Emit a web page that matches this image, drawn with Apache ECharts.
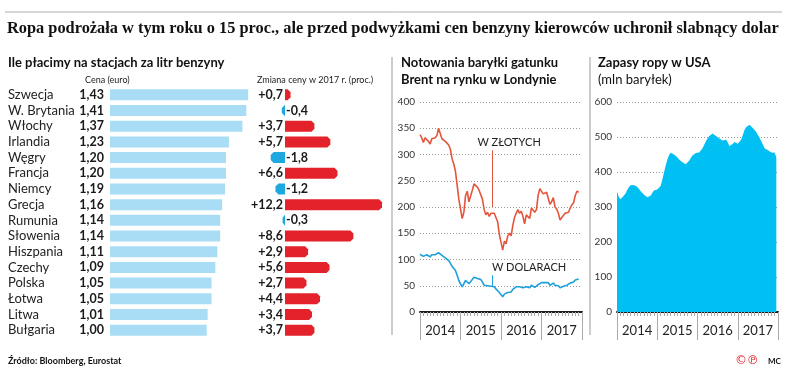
<!DOCTYPE html>
<html><head><meta charset="utf-8">
<script src="https://cdn.jsdelivr.net/npm/echarts@6/dist/echarts.min.js"></script>
<style>html,body{margin:0;padding:0;background:#fff}#c{width:788px;height:375px}</style>
</head><body><div id="c"></div>
<script>
const countries = ['Szwecja','W. Brytania','Włochy','Irlandia','Węgry','Francja','Niemcy','Grecja','Rumunia','Słowenia','Hiszpania','Czechy','Polska','Łotwa','Litwa','Bułgaria'];
const prices = [1.43,1.41,1.37,1.23,1.20,1.20,1.19,1.16,1.14,1.14,1.11,1.09,1.05,1.05,1.01,1.00];
const changes = [0.7,-0.4,3.7,5.7,-1.8,6.6,-1.2,12.2,-0.3,8.6,2.9,5.6,2.7,4.4,3.4,3.7];
const yearLabels = ['2014','2015','2016','2017'];
// semi-monthly readings starting Jan 2014
const brentUsd = [110,107,106,109,109,107,105,109,108,109,110,113,112,108,106,103,102,98,93,87,84,79,70,60,
  57,48,50,60,61,54,56,62,66,66,64,63,62,57,51,49,50,48,49,50,48,44,43,37,
  37,29,34,33,37,39,38,43,46,48,50,48,48,46,43,48,47,46,51,51,47,46,52,55,
  56,55,56,56,56,51,53,55,51,52,50,46,48,49,52,51,53,55,56,57,61,63,63];
const brentPln = [338,332,323,332,330,325,320,330,328,332,336,350,340,330,332,325,328,318,310,292,282,268,242,215,
  215,178,190,222,230,210,212,232,244,242,238,232,232,215,195,185,190,182,188,190,188,180,172,148,
  148,118,135,130,145,150,145,165,180,188,195,188,192,182,168,185,182,178,198,200,190,195,222,235,
  235,225,228,228,225,205,210,218,200,196,188,175,180,180,188,185,190,198,204,208,222,230,228];
const usStocks = [344,330,322,326,332,338,348,356,362,367,363,360,358,352,346,341,336,332,328,326,332,340,347,346,
  350,352,360,378,398,418,435,448,455,457,450,446,442,436,432,428,424,422,424,432,440,447,452,454,
  455,456,460,468,478,488,496,503,508,510,506,503,500,496,492,490,491,492,485,474,470,480,486,483,
  481,484,492,505,520,528,533,535,530,526,522,514,506,498,488,478,468,470,462,458,456,458,455,442];

const SANS = 'Lato, "Noto Sans", sans-serif';
const t = k => 2014 + k / 24;
const fmtPct = v => (v > 0 ? '+' : '') + v.toFixed(1).replace('.', ',');

const chart = echarts.init(document.getElementById('c'), null, {renderer: 'canvas'});

function timeXAxes(gi) {
  return [{
    type: 'value', gridIndex: gi, min: 2014, max: 2018, interval: 1,
    axisLine: {show: true, onZero: false, lineStyle: {color: '#1a1a1a', width: 2}},
    axisTick: {show: true, length: 5, lineStyle: {color: '#999'}},
    minorTick: {show: true, splitNumber: 12, length: 4, lineStyle: {color: '#aaa'}},
    axisLabel: {show: false}, splitLine: {show: false}
  }, {
    type: 'category', gridIndex: gi, data: yearLabels, position: 'bottom', boundaryGap: true,
    axisLine: {show: false},
    axisTick: {show: true, interval: 0, length: 28, lineStyle: {color: '#aaa'}},
    axisLabel: {fontSize: 13, color: '#222', fontFamily: SANS, margin: 12},
    splitLine: {show: false}
  }];
}

const gridLine = {show: true, lineStyle: {color: '#999', type: [1, 2], width: 1}};

const option = {
  animation: false,
  grid: [
    {left: 110, top: 87, width: 145, height: 251},
    {left: 245.25, top: 87, width: 143.1, height: 251},
    {left: 420, top: 102, width: 162, height: 210},
    {left: 617, top: 102, width: 161, height: 210}
  ],
  xAxis: [
    {type: 'value', gridIndex: 0, min: 0, max: 1.5, show: false},
    {type: 'value', gridIndex: 1, min: -5, max: 13, show: false},
    ...timeXAxes(2),
    ...timeXAxes(3)
  ],
  yAxis: [
    {type: 'category', gridIndex: 0, data: countries, inverse: true,
      axisLine: {show: false}, axisTick: {show: false},
      axisLabel: {interval: 0, align: 'left', margin: 102, fontSize: 13, color: '#222', fontFamily: SANS}},
    {type: 'category', gridIndex: 1, data: countries, inverse: true, show: false},
    {type: 'value', gridIndex: 2, min: 0, max: 400, interval: 50,
      axisLine: {show: false}, axisTick: {show: false},
      axisLabel: {fontSize: 10, color: '#333', fontFamily: SANS, margin: 5},
      splitLine: gridLine},
    {type: 'value', gridIndex: 3, min: 0, max: 600, interval: 100,
      axisLine: {show: false}, axisTick: {show: false},
      axisLabel: {fontSize: 10, color: '#333', fontFamily: SANS, margin: 5},
      splitLine: gridLine}
  ],
  series: [
    {type: 'bar', xAxisIndex: 0, yAxisIndex: 0, data: prices, barWidth: 11,
      itemStyle: {color: '#a8ddf5'},
      label: {show: true, position: 'left', distance: 6, fontFamily: SANS, fontWeight: 'bold', fontSize: 12.5, color: '#1a1a1a',
        formatter: p => p.value.toFixed(2).replace('.', ',')}},
    {type: 'custom', xAxisIndex: 1, yAxisIndex: 1,
      data: changes.map((v, i) => [v, i]),
      encode: {x: 0, y: 1},
      renderItem: (params, api) => {
        const v = api.value(0), i = api.value(1);
        const p0 = api.coord([0, i]), p1 = api.coord([v, i]);
        const h = 11, y = p0[1], x0 = p0[0], x1 = p1[0];
        const dir = v >= 0 ? 1 : -1;
        const tip = Math.min(3, Math.abs(x1 - x0));
        const pts = [[x0, y - h / 2], [x1 - dir * tip, y - h / 2], [x1, y - 2.5], [x1, y + 2.5], [x1 - dir * tip, y + h / 2], [x0, y + h / 2]];
        const txt = fmtPct(v);
        const tx = v >= 0 ? x0 - 2 : x0 + 1;
        const al = v >= 0 ? 'right' : 'left';
        return {type: 'group', children: [
          {type: 'polygon', shape: {points: pts}, style: {fill: v >= 0 ? '#e3222b' : '#1ea8e0'}},
          {type: 'text', style: {text: txt, x: tx, y: y, align: al, textAlign: al, verticalAlign: 'middle', textVerticalAlign: 'middle',
            fill: '#1a1a1a', font: 'bold 12.5px ' + SANS}}
        ]};
      }},
    {type: 'line', xAxisIndex: 2, yAxisIndex: 2, showSymbol: false, symbol: 'none',
      data: brentPln.map((v, k) => [t(k), v]),
      lineStyle: {color: '#e4553d', width: 1.6},
      markLine: {silent: true, symbol: 'none', lineStyle: {color: '#e4553d', width: 1, type: 'solid'},
        label: {show: true, position: 'end', formatter: 'W ZŁOTYCH', fontFamily: SANS, fontSize: 11, color: '#222', offset: [17, 0], distance: 2},
        data: [[{coord: [2015.78, 200]}, {coord: [2015.78, 308]}]]}},
    {type: 'line', xAxisIndex: 2, yAxisIndex: 2, showSymbol: false, symbol: 'none',
      data: brentUsd.map((v, k) => [t(k), v]),
      lineStyle: {color: '#1ea0dc', width: 1.6},
      markLine: {silent: true, symbol: 'none', lineStyle: {color: '#1ea0dc', width: 1, type: 'solid'},
        label: {show: true, position: 'end', formatter: 'W DOLARACH', fontFamily: SANS, fontSize: 11, color: '#222', offset: [37, 0], distance: 2},
        data: [[{coord: [2015.78, 48]}, {coord: [2015.78, 70]}]]}},
    {type: 'line', xAxisIndex: 4, yAxisIndex: 3, showSymbol: false, symbol: 'none',
      data: usStocks.map((v, k) => [t(k), v]),
      lineStyle: {width: 0}, areaStyle: {color: '#00bff2', opacity: 1}}
  ],
  graphic: [
    {type: 'line', shape: {x1: 5, y1: 12, x2: 782, y2: 12}, style: {stroke: '#b0b0b0', lineWidth: 1}},
    {type: 'text', x: 7, y: 29, scaleX: 0.962, style: {text: 'Ropa podrożała w tym roku o 15 proc., ale przed podwyżkami cen benzyny kierowców uchronił slabnący dolar',
      font: 'bold 17px "Liberation Serif", serif', fill: '#111', verticalAlign: 'middle', textVerticalAlign: 'middle'}},
    {type: 'text', x: 8, y: 63, style: {text: 'Ile płacimy na stacjach za litr benzyny', font: 'bold 13px ' + SANS, fill: '#111', verticalAlign: 'middle', textVerticalAlign: 'middle'}},
    {type: 'text', x: 85, y: 80, style: {text: 'Cena (euro)', font: '9px ' + SANS, fill: '#222', verticalAlign: 'middle', textVerticalAlign: 'middle'}},
    {type: 'text', x: 257, y: 80, style: {text: 'Zmiana ceny w 2017 r. (proc.)', font: '9px ' + SANS, fill: '#222', verticalAlign: 'middle', textVerticalAlign: 'middle'}},
    {type: 'line', shape: {x1: 392, y1: 57, x2: 392, y2: 335}, style: {stroke: '#999', lineWidth: 1}},
    {type: 'line', shape: {x1: 590, y1: 57, x2: 590, y2: 335}, style: {stroke: '#999', lineWidth: 1}},
    {type: 'text', x: 401, y: 63, style: {text: 'Notowania baryłki gatunku', font: 'bold 13px ' + SANS, fill: '#111', verticalAlign: 'middle', textVerticalAlign: 'middle'}},
    {type: 'text', x: 401, y: 80, style: {text: 'Brent na rynku w Londynie', font: 'bold 13px ' + SANS, fill: '#111', verticalAlign: 'middle', textVerticalAlign: 'middle'}},
    {type: 'text', x: 598, y: 63, style: {text: 'Zapasy ropy w USA', font: 'bold 13px ' + SANS, fill: '#111', verticalAlign: 'middle', textVerticalAlign: 'middle'}},
    {type: 'text', x: 598, y: 80, style: {text: '(mln baryłek)', font: '13px ' + SANS, fill: '#111', verticalAlign: 'middle', textVerticalAlign: 'middle'}},
    {type: 'text', x: 8, y: 361, style: {text: 'Źródło: Bloomberg, Eurostat', font: 'bold 9px ' + SANS, fill: '#111', verticalAlign: 'middle', textVerticalAlign: 'middle'}},
    {type: 'text', x: 735, y: 361, style: {text: '©℗', font: '12px "DejaVu Sans", sans-serif', fill: '#e3222b', verticalAlign: 'middle', textVerticalAlign: 'middle'}},
    {type: 'text', x: 768, y: 361, style: {text: 'MC', font: 'bold 8px ' + SANS, fill: '#111', verticalAlign: 'middle', textVerticalAlign: 'middle'}}
  ]
};
chart.setOption(option);
</script></body></html>
